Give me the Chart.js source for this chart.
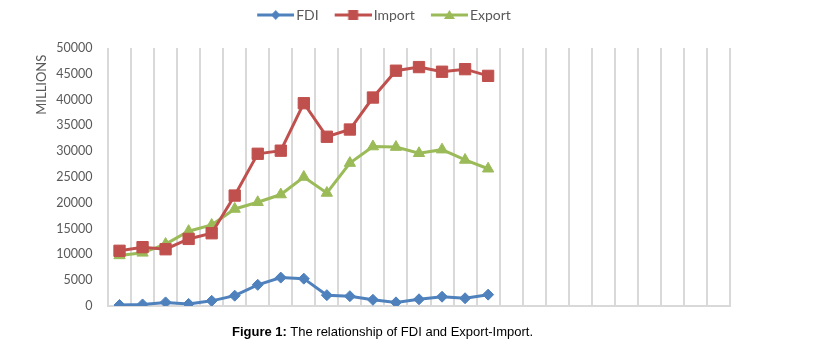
<!DOCTYPE html>
<html>
<head>
<meta charset="utf-8">
<script src="https://cdn.jsdelivr.net/npm/chart.js@4"></script>
<style>
  body { margin: 0; background: #fff; }
  #wrap { position: relative; width: 819px; height: 341px; }
  #caption {
    position: absolute; left: 232px; top: 324px;
    font: 13px/15px "Liberation Sans", Arial, sans-serif; color: #000; white-space: nowrap;
  }
</style>
</head>
<body>
<div id="wrap">
  <canvas id="myChart" width="819" height="341"></canvas>
  <div id="caption"><b>Figure 1:</b> The relationship of FDI and Export-Import.</div>
</div>
<script>
// 27 slots on the axis, only the first 17 have values
var categories = [];
for (var i = 1; i <= 27; i++) categories.push(String(i));

var fdi    = [200, 300, 700, 400, 1000, 2000, 4100, 5500, 5300, 2100, 1900, 1200, 700, 1300, 1800, 1500, 2200];
var imports = [10700, 11400, 11000, 13000, 14100, 21400, 29500, 30100, 39300, 32800, 34200, 40400, 45600, 46300, 45400, 45900, 44600];
var exports = [9800, 10300, 12000, 14500, 15700, 18800, 20100, 21600, 25000, 21900, 27700, 30900, 30800, 29600, 30300, 28300, 26600];

var yTicks = [0, 5000, 10000, 15000, 20000, 25000, 30000, 35000, 40000, 45000, 50000];

var colors = { fdi: '#4F81BD', imp: '#C0504D', exp: '#9BBB59' };

// legend icon: line with the marker in the middle
function legendIcon(color, shape) {
  var c = document.createElement('canvas');
  c.width = 50; c.height = 16;
  var g = c.getContext('2d');
  g.strokeStyle = color; g.fillStyle = color; g.lineWidth = 3;
  g.beginPath(); g.moveTo(13, 8); g.lineTo(50, 8); g.stroke();
  var mx = 31.5, my = 8;
  g.beginPath();
  if (shape === 'diamond') {
    g.moveTo(mx, my - 5); g.lineTo(mx + 4.5, my); g.lineTo(mx, my + 5); g.lineTo(mx - 4.5, my);
  } else if (shape === 'square') {
    g.rect(mx - 5, my - 5, 10, 10);
  } else {
    g.moveTo(mx, my - 5); g.lineTo(mx + 5.5, my + 4); g.lineTo(mx - 5.5, my + 4);
  }
  g.closePath(); g.fill();
  return c;
}

function series(label, data, color, style, radius, shape) {
  return {
    label: label,
    data: data,
    borderColor: color,
    backgroundColor: color,
    borderWidth: 3,
    tension: 0,
    pointStyle: style,
    pointRadius: radius,
    pointHoverRadius: radius,
    pointBorderWidth: 1,
    pointBackgroundColor: color,
    pointBorderColor: color,
    icon: legendIcon(color, shape)
  };
}

var ctx = document.getElementById('myChart');
Chart.defaults.font.family = 'Lato';
Chart.defaults.color = '#595959';

new Chart(ctx, {
  type: 'line',
  data: {
    labels: categories,
    datasets: [
      series('FDI', fdi, colors.fdi, 'rectRot', 5.5, 'diamond'),
      series('Import', imports, colors.imp, 'rect', 8, 'square'),
      series('Export', exports, colors.exp, 'triangle', 6.5, 'triangle')
    ]
  },
  options: {
    responsive: false,
    animation: false,
    devicePixelRatio: 1,
    layout: { padding: { top: 0, left: 30, right: 89, bottom: 0 } },
    plugins: {
      tooltip: { enabled: false },
      legend: {
        position: 'top',
        labels: {
          usePointStyle: true,
          pointStyleWidth: 40,
          padding: 8,
          color: '#595959',
          font: { size: 14 },
          generateLabels: function (chart) {
            return chart.data.datasets.map(function (ds, i) {
              return {
                text: ds.label,
                pointStyle: ds.icon,
                fontColor: '#595959',
                fillStyle: 'transparent',
                strokeStyle: 'transparent',
                lineWidth: 0,
                datasetIndex: i
              };
            });
          }
        }
      },
      // empty title used as a spacer between legend and plot
      title: {
        display: true,
        text: ' ',
        weight: 500,
        padding: 0,
        font: { size: 10, lineHeight: 1.6 }
      }
    },
    scales: {
      x: {
        offset: true,
        grid: { display: true, offset: true, color: '#d9d9d9', lineWidth: 2, drawTicks: false },
        border: { display: true, color: '#d9d9d9', width: 2 },
        ticks: { display: false },
        afterFit: function (scale) { scale.height = 35; }
      },
      y: {
        min: 0,
        max: 50000,
        afterBuildTicks: function (scale) {
          scale.ticks = yTicks.map(function (v) { return { value: v }; });
        },
        grid: { display: false, drawTicks: false },
        border: { display: false },
        ticks: {
          padding: 15.5,
          color: '#595959',
          font: { size: 12.5 },
          callback: function (v) { return String(v); }
        },
        title: {
          display: true,
          text: 'MILLIONS  ',
          align: 'end',
          color: '#595959',
          font: { size: 13 },
          padding: { top: 4.2, bottom: 0 }
        },
        afterFit: function (scale) { scale.width = 78; }
      }
    }
  }
});
</script>
</body>
</html>
